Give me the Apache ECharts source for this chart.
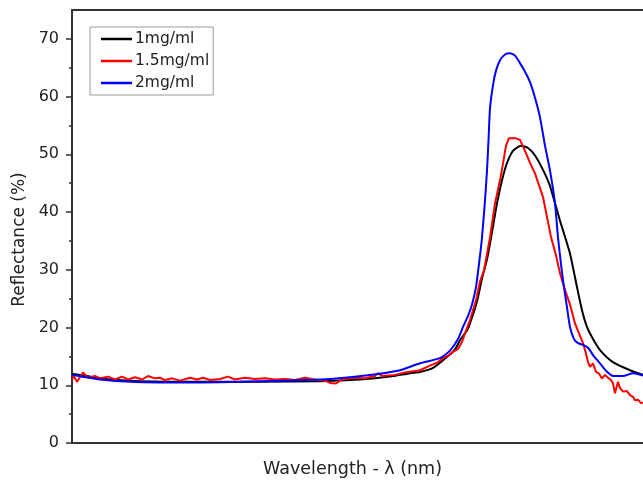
<!DOCTYPE html>
<html><head><meta charset="utf-8">
<script src="https://cdn.jsdelivr.net/npm/echarts@6/dist/echarts.min.js"></script>
<style>html,body{margin:0;padding:0;background:#fff;overflow:hidden}#c{width:643px;height:484px}</style>
</head><body><div id="c"></div>
<script>
// wavelength (nm) and reflectance (%) for each sample
var seriesNames = ['1mg/ml', '1.5mg/ml', '2mg/ml'];
var wl1 = [400,418,438,468,528,588,648,688,718,738,748,761,775,783,788,795,798,805,810,815,820,825,830,835,841,849,856,863,871,878,888,898,905,910,915,921,928,941,958,971];
var r1  = [12.0,11.5,11.0,10.7,10.6,10.6,10.7,11.0,11.5,12.1,12.3,13.0,14.9,16.2,17.8,19.5,20.7,24.5,28.5,31.8,36.5,41.5,45.5,48.5,50.6,51.5,51.1,49.8,47.3,44.5,38.5,32.8,27.0,23.0,20.1,18.0,16.1,14.0,12.6,11.8];
var wl2 = [400,402,405,411,416,423,428,436,443,450,456,463,470,476,483,488,493,500,508,518,525,531,538,548,556,563,573,583,593,603,613,623,633,643,653,658,664,670,683,693,703,706,710,723,733,748,758,765,771,778,781,786,790,793,798,804,808,812,818,823,828,831,834,837,843,848,853,858,863,871,879,884,888,893,898,903,907,911,914,916,918,921,924,927,930,933,936,939,941,943,946,948,951,955,958,961,963,966,969,971];
var r2  = [11.0,11.5,10.6,12.2,11.3,11.6,11.2,11.5,11.0,11.5,11.0,11.4,11.0,11.6,11.2,11.3,10.9,11.2,10.8,11.3,11.0,11.3,10.9,11.1,11.5,11.0,11.3,11.1,11.2,11.0,11.1,10.9,11.3,11.0,10.8,10.4,10.3,11.0,11.3,11.2,11.6,12.1,11.6,11.8,12.2,12.6,13.4,13.9,14.7,15.3,15.8,16.3,17.5,19.0,21.3,24.7,28.0,29.9,35.6,41.5,45.5,48.4,51.5,52.8,52.8,52.5,50.6,48.5,46.7,42.6,35.7,32.5,29.4,26.5,24.0,20.7,19.0,17.3,15.5,14.0,13.2,13.8,12.3,12.0,11.2,11.8,11.3,10.9,10.3,8.6,10.6,9.5,8.9,9.0,8.3,8.0,7.4,7.5,6.9,7.0];
var wl3 = [400,413,428,458,488,528,568,608,648,678,708,728,748,768,778,786,791,796,800,804,807,810,813,815,816.5,818,821,824,828,833,838,843,848,853,858,863,868,873,878,883,886,889,891,895,898,902,906,911,916,922,928,934,941,951,961,971];
var r3  = [11.8,11.4,11.0,10.6,10.5,10.5,10.6,10.8,11.0,11.4,12.0,12.6,13.8,14.7,16.0,18.0,20.1,22.0,24.0,27.0,31.0,35.6,42.0,47.2,52.4,58.0,62.0,64.5,66.3,67.3,67.5,67.1,65.8,64.3,62.5,59.8,56.4,51.5,47.2,41.5,35.6,31.0,28.2,23.5,20.1,18.0,17.3,17.0,16.5,15.0,13.8,12.5,11.6,11.6,12.1,11.7];
var yTicks = [0,10,20,30,40,50,60,70];
var colors = ['#000000', '#ff0000', '#0000ff'];

function pairs(x, y){ return x.map(function(v,i){ return [v, y[i]]; }); }
var datasets = [pairs(wl1,r1), pairs(wl2,r2), pairs(wl3,r3)];

var chart = echarts.init(document.getElementById('c'), null, {renderer:'canvas'});
var font = 'DejaVu Sans, Arial, sans-serif';
chart.setOption({
  animation: false,
  backgroundColor: '#fff',
  grid: {left: 72, right: 0, top: 10, bottom: 41, outerBoundsMode: 'none', containLabel: false},
  legend: {
    orient: 'vertical', left: 90, top: 27,
    data: seriesNames,
    icon: 'rect', itemWidth: 31, itemHeight: 2.5, itemGap: 6,
    padding: [4, 4, 4, 11],
    borderColor: '#999', borderWidth: 1,
    textStyle: {fontFamily: font, fontSize: 15.5, color: '#222', lineHeight: 16, padding: [0,0,0,-2]}
  },
  xAxis: [{
    type: 'value', min: 400, max: 971, position: 'bottom',
    name: 'Wavelength - λ (nm)', nameLocation: 'middle', nameGap: 17,
    nameTextStyle: {fontFamily: font, fontSize: 17.5, color: '#222', padding: [0, 10, 0, 0]},
    axisLine: {show: true, onZero: false, lineStyle: {color: '#333', width: 2}},
    axisTick: {show: false}, axisLabel: {show: false}, splitLine: {show: false}
  }, {
    type: 'value', min: 400, max: 971, position: 'top',
    axisLine: {show: true, onZero: false, lineStyle: {color: '#333', width: 2}},
    axisTick: {show: false}, axisLabel: {show: false}, splitLine: {show: false}
  }],
  yAxis: {
    type: 'value', min: 0, max: 75, interval: 10,
    name: 'Reflectance (%)', nameLocation: 'middle', nameGap: 43,
    nameTextStyle: {fontFamily: font, fontSize: 17, color: '#222', padding: [0, 26, 0, 0]},
    axisLine: {show: true, lineStyle: {color: '#333', width: 2}},
    axisTick: {show: true, length: 6, inside: false, lineStyle: {color: '#333', width: 1.5},
      customValues: yTicks},
    minorTick: {show: true, splitNumber: 2, length: 3, lineStyle: {color: '#333', width: 1.5}},
    axisLabel: {fontFamily: font, fontSize: 16, color: '#222', margin: 13, customValues: yTicks},
    splitLine: {show: false}
  },
  series: seriesNames.map(function(n, i){
    return {
      name: n, type: 'line', data: datasets[i], showSymbol: false, symbol: 'none',
      smooth: i === 1 ? false : 0.2,
      lineStyle: {color: colors[i], width: 2}, itemStyle: {color: colors[i]},
      clip: true
    };
  })
});
</script></body></html>
